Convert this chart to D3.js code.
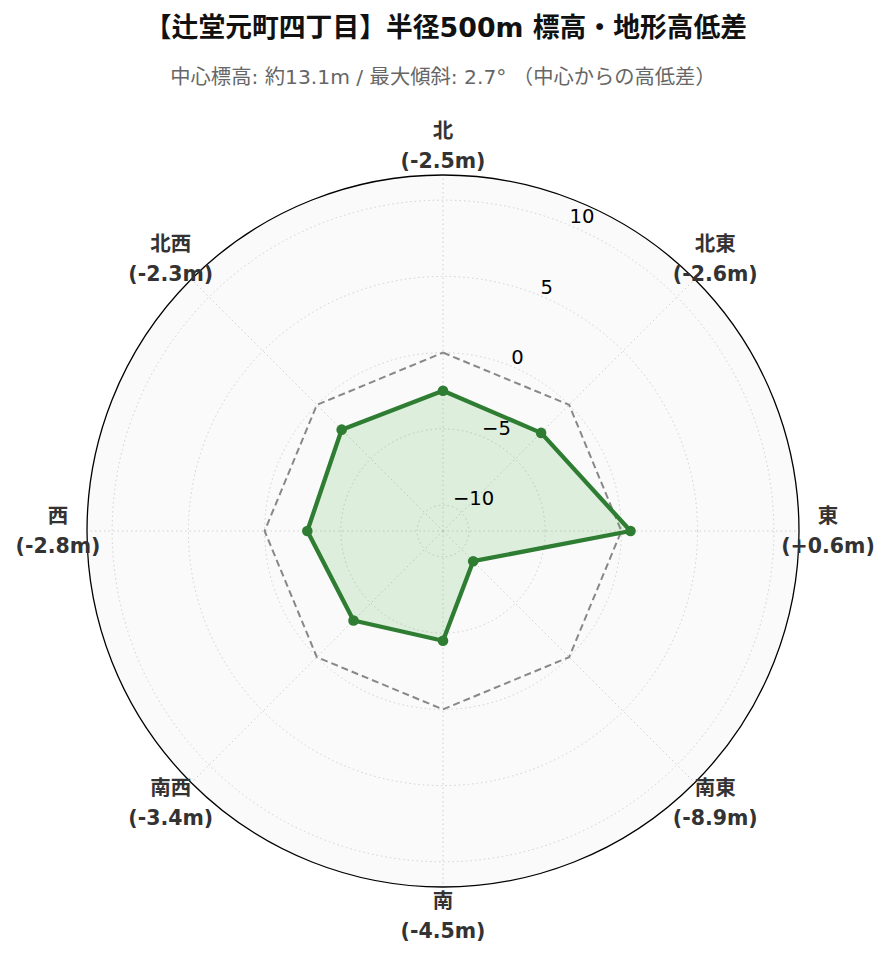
<!DOCTYPE html>
<html>
<head>
<meta charset="utf-8">
<script src="https://cdn.jsdelivr.net/npm/d3@7"></script>
<style>
  html, body { margin: 0; padding: 0; background: #ffffff; }
  svg { display: block; }
</style>
</head>
<body>
<svg id="chart" width="889" height="962"></svg>
<script>
// ---- data ----
const directions = ["北", "北東", "東", "南東", "南", "南西", "西", "北西"];
const diffs = [-2.5, -2.6, 0.6, -8.9, -4.5, -3.4, -2.8, -2.3];
const diffLabels = ["(-2.5m)", "(-2.6m)", "(+0.6m)", "(-8.9m)", "(-4.5m)", "(-3.4m)", "(-2.8m)", "(-2.3m)"];
const referenceLevel = [0, 0, 0, 0, 0, 0, 0, 0];
const radialTicks = [-10, -5, 0, 5, 10];
const radialDomain = [-11.7, 11.65];
const titleText = "【辻堂元町四丁目】半径500m 標高・地形高低差";
const subtitleText = "中心標高: 約13.1m / 最大傾斜: 2.7° （中心からの高低差）";

// ---- layout ----
const svg = d3.select("#chart");
const cx = 443, cy = 531, R = 356;
const mixFont = "'DejaVu Sans', 'Noto Sans CJK JP', sans-serif";

const rScale = d3.scaleLinear().domain(radialDomain).range([0, R]);
const aScale = d3.scaleBand().domain(directions).range([0, 2 * Math.PI]).paddingInner(0).align(0);
const ang = d => aScale(d); // clockwise from north
const px = (a, r) => cx + r * Math.sin(a);
const py = (a, r) => cy - r * Math.cos(a);

const g = svg.append("g");

// background disc
g.append("circle").attr("cx", cx).attr("cy", cy).attr("r", R)
  .attr("fill", "#fafafa").attr("stroke", "none");

// circular grid
g.selectAll(".rgrid").data(radialTicks).enter().append("circle")
  .attr("cx", cx).attr("cy", cy).attr("r", d => rScale(d))
  .attr("fill", "none").attr("stroke", "#d0d0d0").attr("stroke-width", 1)
  .attr("stroke-dasharray", "1.5,3");

// spokes
g.selectAll(".spoke").data(directions).enter().append("line")
  .attr("x1", cx).attr("y1", cy)
  .attr("x2", d => px(ang(d), R)).attr("y2", d => py(ang(d), R))
  .attr("stroke", "#d0d0d0").attr("stroke-width", 1)
  .attr("stroke-dasharray", "1.5,3");

// reference (0m) octagon dashed
const lineGen = d3.lineRadial().angle(d => ang(d.dir)).radius(d => rScale(d.v)).curve(d3.curveLinearClosed);
const refData = directions.map((dir, i) => ({ dir, v: referenceLevel[i] }));
g.append("path").attr("transform", `translate(${cx},${cy})`)
  .attr("d", lineGen(refData))
  .attr("fill", "none").attr("stroke", "#888888").attr("stroke-width", 2)
  .attr("stroke-dasharray", "7,4");

// data polygon
const data = directions.map((dir, i) => ({ dir, v: diffs[i] }));
g.append("path").attr("transform", `translate(${cx},${cy})`)
  .attr("d", lineGen(data))
  .attr("fill", "#4caf50").attr("fill-opacity", 0.17)
  .attr("stroke", "none");
g.append("path").attr("transform", `translate(${cx},${cy})`)
  .attr("d", lineGen(data))
  .attr("fill", "none").attr("stroke", "#2e7d32").attr("stroke-width", 4.3)
  .attr("stroke-linejoin", "round");
g.selectAll(".pt").data(data).enter().append("circle")
  .attr("cx", d => px(ang(d.dir), rScale(d.v)))
  .attr("cy", d => py(ang(d.dir), rScale(d.v)))
  .attr("r", 5.3).attr("fill", "#2e7d32");

// radial tick labels at 22.5°
const tickAngle = Math.PI / 8;
g.selectAll(".rtick").data(radialTicks).enter().append("text")
  .attr("x", d => px(tickAngle, rScale(d)))
  .attr("y", d => py(tickAngle, rScale(d)) - 2)
  .attr("text-anchor", "start")
  .attr("font-family", "'DejaVu Sans', sans-serif")
  .attr("font-size", "19.6px").attr("fill", "#000")
  .text(d => (d < 0 ? "\u2212" + Math.abs(d) : String(d)));

// outer border
g.append("circle").attr("cx", cx).attr("cy", cy).attr("r", R)
  .attr("fill", "none").attr("stroke", "#000").attr("stroke-width", 1.3);

// direction labels
const labelR = 385;
const lab = g.selectAll(".dirlab").data(directions).enter().append("text")
  .attr("text-anchor", "middle")
  .attr("font-family", mixFont).attr("font-weight", "bold")
  .attr("font-size", "20.5px").attr("fill", "#333");
lab.append("tspan")
  .attr("x", d => px(ang(d), labelR))
  .attr("y", d => py(ang(d), labelR) - 15)
  .attr("dominant-baseline", "central")
  .text(d => d);
lab.append("tspan")
  .attr("x", d => px(ang(d), labelR))
  .attr("y", d => py(ang(d), labelR) + 15)
  .attr("dominant-baseline", "central")
  .text((d, i) => diffLabels[i]);

// title & subtitle
svg.append("text").attr("x", 446).attr("y", 27)
  .attr("text-anchor", "middle").attr("dominant-baseline", "central")
  .attr("font-family", mixFont).attr("font-weight", "bold")
  .attr("font-size", "26.8px").attr("fill", "#111")
  .text(titleText);
svg.append("text").attr("x", 443).attr("y", 77)
  .attr("text-anchor", "middle").attr("dominant-baseline", "central")
  .attr("font-family", mixFont)
  .attr("font-size", "20.3px").attr("fill", "#666")
  .text(subtitleText);
</script>
</body>
</html>
